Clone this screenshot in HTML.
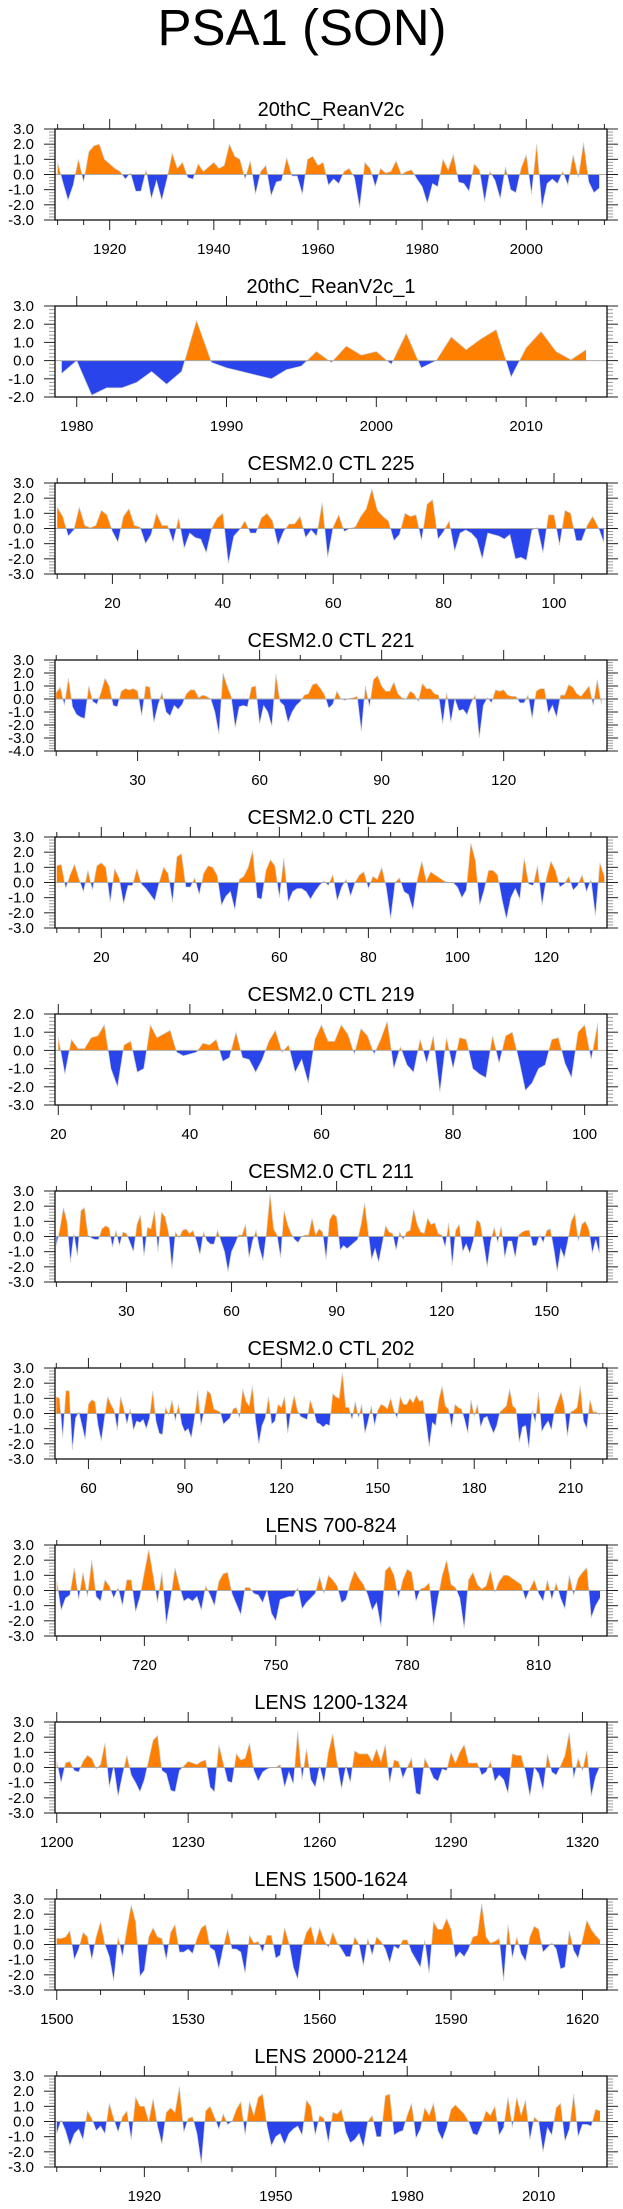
<!DOCTYPE html>
<html><head><meta charset="utf-8"><title>PSA1 (SON)</title>
<style>
html,body{margin:0;padding:0;background:#fff;}
svg{display:block;font-family:"Liberation Sans",Arial,sans-serif;}
</style></head>
<body>
<svg id="chart" width="623" height="2209" viewBox="0 0 623 2209" xmlns="http://www.w3.org/2000/svg">
<text x="302" y="45" font-size="51" text-anchor="middle" fill="#000">PSA1 (SON)</text>
</svg>
<script>
// ---- data arrays (one value per year) ----
const reanV2cValues=[0.8,-0.5,-1.7,-0.7,1.0,-0.5,1.5,1.9,2.0,1.0,0.7,0.4,0.2,-0.3,0.1,-1.1,-1.1,0.3,-1.6,-0.4,-1.7,-0.3,1.4,0.4,0.8,-0.2,-0.3,0.7,0.2,0.5,0.8,0.4,0.6,2.0,1.2,1.0,-0.3,0.9,-1.3,0.2,0.6,-1.4,-0.5,-0.4,1.1,-0.1,-0.1,-1.3,1.0,1.2,0.6,0.8,-0.7,-0.3,-0.6,0.2,0.4,-0.2,-2.2,0.8,0.4,-0.8,0.4,0.1,0.2,0.9,0.0,0.2,0.3,-0.3,-0.8,-1.9,-0.6,-0.8,1.0,0.3,1.3,-0.5,-0.6,-1.1,0.7,0.3,-1.8,0.2,-0.4,-1.6,0.5,-1.0,-1.2,0.4,1.3,-1.3,2.0,-2.2,-0.6,-0.3,-0.6,0.2,-0.7,1.3,-0.2,2.1,-0.5,-1.2,-0.9];
const reanV2c1Values=[-0.7,0.0,-1.9,-1.5,-1.5,-1.2,-0.6,-1.3,-0.6,2.2,-0.1,-0.4,-0.6,-0.8,-1.0,-0.5,-0.3,0.5,-0.1,0.8,0.3,0.5,-0.2,1.5,-0.4,0.0,1.3,0.6,1.2,1.7,-0.9,0.7,1.6,0.5,0.05,0.6];
const ctl225Values=[1.4,0.8,-0.5,-0.1,1.4,0.2,0.05,0.2,1.2,0.9,-0.2,-0.9,0.8,1.3,0.2,0.1,-1.0,-0.4,1.0,0.2,0.2,-0.9,0.7,-1.3,-0.3,-0.6,-0.7,-1.6,0.0,0.7,1.0,-2.3,-0.5,-0.1,0.5,-0.3,-0.3,0.7,1.0,0.5,-1.1,-0.2,0.3,0.3,0.8,-0.6,-0.1,-0.5,1.7,-1.9,0.1,0.9,-0.2,0.0,0.1,0.8,1.3,2.6,1.2,0.8,0.5,-0.8,-0.4,1.0,0.8,0.9,-0.8,1.6,1.9,-0.7,-0.2,0.5,-1.5,-0.3,-0.1,-0.3,-0.7,-2.0,-0.3,-0.4,-0.5,-0.7,-0.4,-2.0,-1.9,-2.1,-0.1,0.05,-1.6,0.9,0.9,-1.1,1.2,1.0,-0.8,-0.8,0.2,0.8,0.1,-0.9];
const ctl221Values=[0.5,0.9,-0.5,1.6,-0.6,-1.2,-1.4,-1.5,1.0,-0.2,-0.4,0.5,1.6,1.0,-0.5,-0.6,0.6,0.8,0.7,0.8,0.6,-1.3,1.0,0.9,-1.8,-0.5,0.5,-1.0,-1.3,-0.5,-0.8,-0.4,0.4,0.7,0.7,0.1,0.3,0.2,0.0,-1.0,-2.7,2.0,1.0,0.2,-2.2,-0.6,-0.5,-0.6,0.9,1.0,-1.9,-0.5,-1.0,-2.1,1.9,-0.2,-0.5,-1.8,-1.0,-0.5,-0.2,0.3,0.4,1.1,1.2,0.8,0.3,-0.7,-0.4,0.6,0.0,-0.1,0.05,0.1,0.2,-2.5,1.0,-0.6,1.5,1.8,1.0,0.6,0.6,1.3,0.4,0.1,0.0,0.6,0.4,-0.2,1.2,0.8,0.8,0.4,0.3,-1.9,0.5,-1.8,0.0,-0.9,-0.8,-1.2,-0.3,0.3,-3.0,-0.5,0.1,-0.3,0.7,0.6,0.7,0.3,0.2,0.2,-0.3,-0.3,0.3,-1.5,0.6,0.8,0.8,-1.1,-0.5,-1.4,0.3,0.3,1.1,0.9,0.4,0.2,0.6,1.0,-0.5,1.5,-0.4];
const ctl220Values=[1.1,1.2,-0.4,0.5,1.2,0.2,-0.6,0.8,-0.5,1.1,1.3,1.0,-1.3,0.9,0.3,-1.4,-0.2,-0.2,0.9,-0.1,-0.4,-0.8,-1.2,0.0,1.0,0.6,-1.3,1.7,1.9,-0.3,-0.3,0.3,-0.8,0.6,1.1,1.0,0.5,-1.5,-0.9,-0.6,-1.8,0.2,0.4,1.0,2.1,-1.0,-1.1,0.8,1.5,1.1,-1.0,1.6,-1.3,-0.6,-0.4,-0.4,-0.6,-1.1,-0.6,-0.2,0.1,-0.2,0.5,-1.2,-0.3,0.2,-0.9,0.0,0.5,0.7,-0.4,0.4,0.2,1.0,-0.3,-2.4,0.0,0.3,-0.6,-0.8,-1.8,0.2,1.4,0.1,0.7,0.5,0.3,0.1,0.0,0.0,-0.3,-1.0,-0.5,2.6,1.5,-1.5,-0.5,0.8,0.8,0.5,-1.1,-2.4,-1.0,-0.4,-1.1,1.6,-0.1,-0.2,1.1,-1.5,0.3,1.4,0.8,-0.3,-0.1,0.4,-0.5,-0.2,0.5,-0.6,0.2,-2.2,1.3,0.4];
const ctl219Values=[0.7,-1.3,0.6,0.1,0.1,0.7,0.8,1.4,-1.0,-2.0,0.3,0.5,-1.2,-1.0,1.4,0.7,0.9,1.1,-0.1,-0.3,-0.2,-0.1,0.4,0.3,0.6,-0.6,-0.4,1.0,-0.4,-0.5,-1.2,-0.5,0.5,1.1,-0.1,0.3,-1.2,-0.5,-1.8,0.6,1.4,0.5,0.5,1.4,0.9,-0.2,1.2,0.8,-0.2,0.6,1.6,-1.0,0.2,-0.8,-1.2,0.6,-0.7,0.8,-2.3,0.7,-1.0,0.7,0.6,-1.0,-1.3,-1.5,0.8,-0.7,0.8,1.0,-0.5,-2.2,-1.8,-1.0,-0.8,0.6,0.7,-0.7,-1.5,1.0,1.4,-0.5,1.5];
const ctl211Values=[-0.6,0.5,1.9,1.0,-1.7,0.2,-1.3,1.7,1.9,0.1,-0.1,-0.2,-0.2,0.5,0.7,0.6,-0.7,0.4,-0.6,0.3,0.2,-0.4,-1.0,0.8,1.4,-1.3,0.6,0.5,1.7,-1.0,1.6,1.3,0.3,-2.1,0.3,-0.1,0.4,0.5,0.2,0.4,-0.3,-1.2,0.3,-0.3,-0.5,-0.5,0.4,-0.3,-1.0,-2.3,-1.0,-0.5,0.1,0.1,0.8,-1.4,-0.3,0.4,-0.8,-1.6,0.3,2.8,0.5,0.1,-1.4,1.7,0.8,0.2,-0.2,-0.4,0.0,0.1,0.1,1.2,0.1,0.5,0.3,-1.5,1.1,1.5,1.3,-0.9,-0.6,-0.8,-0.6,-0.4,-0.2,0.8,2.2,0.3,-1.5,-0.8,-1.7,-0.5,0.7,0.3,0.2,-0.9,0.3,-0.2,0.3,0.4,1.8,0.8,0.3,0.2,1.2,0.8,0.9,0.2,0.1,-0.7,0.9,-1.9,0.4,0.8,-1.0,-0.5,-1.1,-0.3,1.1,0.9,-0.5,-2.0,-0.3,0.6,-0.4,0.7,-1.4,-0.3,-0.3,-1.4,0.1,0.3,0.4,0.4,-0.6,-0.6,0.1,-0.4,0.4,0.5,-0.8,-2.3,-0.8,-1.4,-0.3,1.0,1.5,-0.3,0.8,1.0,0.5,-1.1,-0.2,-1.1];
const ctl202Values=[1.1,1.0,-1.6,1.5,1.5,-2.4,-0.3,0.1,-0.8,-1.7,0.6,0.9,0.8,-0.8,-1.8,-0.3,1.1,0.6,0.2,-1.1,1.1,0.3,-0.7,0.3,-1.1,-0.5,-0.6,-0.4,-1.0,-0.3,1.5,-0.5,-1.3,-1.4,0.4,-0.1,0.9,-0.5,0.6,-0.7,-1.2,-1.0,-1.6,-0.3,1.5,-0.8,0.2,1.5,1.3,0.3,0.2,0.1,-0.7,-0.5,-0.3,0.3,0.4,-0.3,1.6,0.8,0.5,1.8,-0.5,-2.0,-0.8,-0.3,1.1,-0.7,-0.5,0.6,0.4,1.1,-1.3,0.2,1.2,0.2,-0.2,-0.3,-0.4,0.9,0.2,-0.6,-0.7,-0.9,-0.7,-0.8,1.3,1.1,1.0,2.7,0.4,0.4,-0.4,0.8,-0.3,0.6,-1.3,-0.5,0.5,-0.8,0.2,0.6,0.5,0.3,1.0,0.2,-0.3,1.1,0.6,0.6,1.0,0.7,1.2,0.8,0.9,-0.5,-2.2,-0.6,-0.8,0.9,1.8,0.5,0.3,-0.9,0.6,0.4,0.3,-0.4,-1.3,0.9,-0.2,0.6,-0.9,-0.3,-0.2,-0.8,-1.3,-0.8,0.1,0.3,0.5,1.6,0.5,0.3,-1.9,-0.9,-0.8,-2.3,0.2,-0.6,1.4,-1.2,-0.8,-0.5,-1.1,0.2,0.8,1.4,0.5,-1.5,0.1,0.2,0.4,1.8,-0.5,-1.0,0.9,0.1,0.1,-0.1];
const lens700Values=[0.6,-1.3,-0.5,-0.3,1.5,-0.6,1.2,-0.4,2.0,-0.4,-0.7,0.7,0.3,-0.5,0.2,-1.0,0.7,0.7,-1.4,-0.4,1.2,2.7,1.0,-0.8,1.2,-2.2,-0.5,1.5,0.3,-0.7,-0.5,-0.7,-0.4,-1.3,0.3,-0.3,-1.0,0.6,1.1,1.2,-0.2,-0.9,-1.6,0.2,0.2,-0.2,-0.3,-0.8,0.0,-1.5,-2.0,-0.6,-0.5,-0.4,-0.4,0.2,-1.2,-0.8,-0.5,-0.2,0.9,-0.2,1.0,0.7,0.3,-0.8,-0.6,0.5,1.3,0.8,0.4,-0.3,-1.3,-0.8,-2.4,1.3,1.6,1.0,-0.5,0.7,1.4,1.2,-0.7,0.1,0.2,0.5,-2.3,-0.5,1.0,2.0,0.4,0.2,-0.5,-2.5,0.7,1.2,0.4,0.1,0.3,1.3,-0.1,0.6,1.0,1.0,0.8,0.6,0.4,-0.6,0.1,0.7,-0.2,-0.7,0.7,-0.6,0.5,-0.5,-1.2,1.0,-0.3,0.8,1.2,1.5,-1.8,-1.0,-0.5];
const lens1200Values=[0.4,-1.0,0.3,0.4,-0.2,-0.3,0.4,0.8,0.6,-0.1,0.2,1.6,-1.3,0.1,-1.9,-0.5,0.8,-0.5,-1.0,-1.6,-0.8,0.5,1.8,2.1,-0.2,-0.4,-1.5,-1.6,-0.2,0.1,0.4,0.3,0.2,0.4,0.5,-1.3,-1.6,1.5,0.3,-0.9,-1.0,0.9,0.5,0.6,1.6,-0.2,-0.9,-0.3,-0.1,0.0,0.0,0.2,-1.3,-0.3,-1.1,2.4,-0.8,1.2,-0.8,-1.3,0.1,-1.0,1.0,2.2,0.3,-1.4,0.1,-1.0,1.1,0.9,0.9,0.9,0.4,1.2,0.4,1.5,-1.0,0.5,0.4,-0.7,0.0,0.6,-1.7,-1.8,0.6,0.0,-0.7,-0.9,-0.1,-0.2,1.0,0.3,1.0,1.5,0.3,0.3,0.3,-0.5,-0.3,0.4,-0.9,-0.5,-0.8,-1.7,0.9,0.8,0.8,-0.3,-1.9,0.0,-0.4,-1.5,0.9,-0.3,-0.5,0.1,0.8,2.3,-0.7,0.6,-0.2,1.1,-1.9,-0.6,0.1];
const lens1500Values=[0.4,0.4,0.5,0.9,-1.0,-0.3,0.8,0.5,-1.0,0.5,1.5,0.0,-0.8,-2.4,0.5,-0.8,1.0,2.6,1.5,-2.1,-1.7,0.5,1.1,0.5,0.4,-1.0,0.8,1.3,-0.5,-0.5,-0.3,-0.6,0.4,1.1,1.3,-0.2,-0.4,-1.6,-0.2,1.0,-0.3,-0.3,-0.5,-1.9,0.6,0.1,0.2,-0.5,0.6,0.6,-0.9,-0.7,1.1,0.1,-1.5,-2.3,-0.2,0.8,1.2,0.0,1.1,0.3,-0.2,0.8,0.1,-0.3,-0.8,-0.8,0.5,0.0,-1.4,0.4,-0.7,0.5,0.2,-0.3,-1.2,-0.1,-0.3,0.3,0.3,-0.5,-1.0,-1.5,0.3,-1.9,1.5,1.0,1.0,1.7,1.0,-0.9,-0.5,-0.8,-0.3,0.5,0.6,2.7,0.5,0.1,0.2,0.4,-2.4,1.3,-0.9,0.5,-0.6,-1.1,0.5,1.2,1.0,-0.5,-0.2,0.1,-0.3,-1.6,-1.5,0.9,-0.4,-0.9,0.3,1.6,1.0,0.6,0.3];
const lens2000Values=[-0.8,0.1,-0.6,-1.6,-0.8,-0.5,-1.2,0.7,0.2,-0.6,-0.3,-0.8,1.2,0.2,-0.7,0.3,0.7,-1.2,1.6,1.0,1.0,0.0,1.5,-0.3,-1.5,0.6,0.9,0.6,2.3,-0.7,0.2,0.3,-0.8,-2.8,0.7,1.0,0.3,-0.5,0.5,-0.2,0.0,0.8,1.3,-0.9,1.3,0.4,1.6,1.8,-0.3,-1.6,-1.0,-0.8,-1.5,-0.8,-0.5,-0.3,-0.9,1.4,1.0,-0.9,0.4,0.2,-1.4,0.6,0.5,0.8,-0.7,-1.4,-1.2,-0.8,-1.7,0.0,0.4,-1.0,-1.0,1.7,1.8,-0.9,-0.7,-0.6,0.4,1.2,-1.1,-0.5,0.9,0.4,1.2,-0.6,-1.2,-0.4,0.8,1.1,0.8,0.5,0.0,-0.8,-0.9,-0.2,0.7,0.4,1.0,-0.9,-0.4,1.6,-0.4,1.6,0.4,1.4,-1.2,0.3,0.0,-2.0,-0.4,-0.9,0.9,1.2,-1.3,-0.5,1.8,-1.0,-0.2,-0.2,-0.3,0.8,0.7];

const panelTitles=["20thC_ReanV2c","20thC_ReanV2c_1","CESM2.0 CTL 225","CESM2.0 CTL 221","CESM2.0 CTL 220","CESM2.0 CTL 219","CESM2.0 CTL 211","CESM2.0 CTL 202","LENS 700-824","LENS 1200-1324","LENS 1500-1624","LENS 2000-2124"];
const panelSeries=[reanV2cValues,reanV2c1Values,ctl225Values,ctl221Values,ctl220Values,ctl219Values,ctl211Values,ctl202Values,lens700Values,lens1200Values,lens1500Values,lens2000Values];
const startYears=[1910,1979,10,10,10,20,10,50,700,1200,1500,1900];
const xMins=[1909.5,1978.55,9.6,9.7,9.6,19.5,9.6,49.6,699.6,1199.6,1499.6,1899.6];
const xMaxs=[2015.5,2015.4,109.6,145.4,133.6,103.4,167.2,221.3,825.6,1325.6,1625.6,2025.6];
const yMins=[-3,-2,-3,-4,-3,-3,-3,-3,-3,-3,-3,-3];
const yMaxs=[3,3,3,3,3,2,3,3,3,3,3,3];
const majorSteps=[20,10,20,30,20,20,30,30,30,30,30,30];
const minorSteps=[5,2,5,10,5,5,10,10,10,10,10,10];

const NS="http://www.w3.org/2000/svg";
const svg=document.getElementById('chart');
const L=55,R=607,H=91,TOP0=129,GAP=177;
function mk(tag,attrs,parent){const e=document.createElementNS(NS,tag);for(const k in attrs)e.setAttribute(k,attrs[k]);(parent||svg).appendChild(e);return e;}

panelSeries.forEach((vals,p)=>{
  const top=TOP0+GAP*p,bot=top+H;
  const x0=xMins[p],x1=xMaxs[p],y0=yMins[p],y1=yMaxs[p];
  const xs=v=>L+(v-x0)/(x1-x0)*(R-L);
  const ys=v=>bot-(v-y0)/(y1-y0)*H;
  const g=mk('g',{});
  
  
  const t=mk('text',{x:331,y:top-13,'font-size':20,'text-anchor':'middle',fill:'#000'},g);
  
  
  t.textContent=panelTitles[p];
  const zy=ys(0);
  // clip paths
  const cu=mk('clipPath',{id:'cu'+p},g);mk('rect',{x:L,y:top,width:R-L,height:zy-top},cu);
  const cd=mk('clipPath',{id:'cd'+p},g);mk('rect',{x:L,y:zy,width:R-L,height:bot-zy},cd);
  const cb=mk('clipPath',{id:'cb'+p},g);mk('rect',{x:L,y:top,width:R-L,height:H},cb);
  let pts=vals.map((v,i)=>xs(startYears[p]+i).toFixed(2)+','+ys(v).toFixed(2));
  const xa=xs(startYears[p]).toFixed(2),xb=xs(startYears[p]+vals.length-1).toFixed(2);
  const d='M'+xa+','+zy+' L'+pts.join(' L')+' L'+xb+','+zy+' Z';
  const pos=mk('path',{d:d,fill:'#ff8000','clip-path':'url(#cu'+p+')'},g);
  
  
  const neg=mk('path',{d:d,fill:'#2a44ec','clip-path':'url(#cd'+p+')'},g);
  
  
  const ln=mk('polyline',{points:pts.join(' '),fill:'none',stroke:'#cfcfcf','stroke-width':0.7,'clip-path':'url(#cb'+p+')'},g);
  
  
  const zl=mk('line',{x1:L,x2:R,y1:zy,y2:zy,stroke:'#aaa','stroke-width':1},g);
  
  
  // y ticks
  const yt=mk('g',{},g);
  
  
  for(let k=Math.round(y0*5);k<=Math.round(y1*5);k++){
    const v=k/5,y=ys(v),maj=(k%5===0);
    const len=maj?11:6,col=maj?'#222':'#999';
    mk('line',{x1:L-len,x2:L,y1:y,y2:y,stroke:col,'stroke-width':1},yt);
    mk('line',{x1:R,x2:R+len,y1:y,y2:y,stroke:col,'stroke-width':1},yt);
    if(maj){const tl=mk('text',{x:34,y:y+5,'font-size':15,'text-anchor':'end',fill:'#000'},yt);
      
      
      tl.textContent=v.toFixed(1);}
  }
  // x ticks
  const xt=mk('g',{},g);
  
  
  const ms=minorSteps[p],Ms=majorSteps[p];
  for(let v=Math.ceil(x0/ms)*ms;v<=x1;v+=ms){
    const x=xs(v),maj=(v%Ms===0),len=maj?10:5;
    mk('line',{x1:x,x2:x,y1:top-len,y2:top,stroke:'#222','stroke-width':1},xt);
    mk('line',{x1:x,x2:x,y1:bot,y2:bot+len,stroke:'#222','stroke-width':1},xt);
    if(maj){const tl=mk('text',{x:x,y:bot+34,'font-size':15,'text-anchor':'middle',fill:'#000'},xt);
      
      
      tl.textContent=String(v);}
  }
  const box=mk('rect',{x:L,y:top,width:R-L,height:H,fill:'none',stroke:'#111','stroke-width':1.3},g);
  
  
});
</script>
</body></html>
